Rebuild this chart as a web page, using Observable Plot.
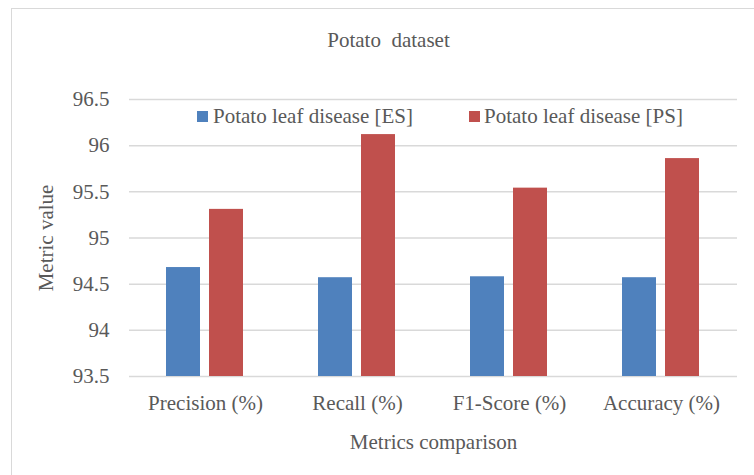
<!DOCTYPE html>
<html>
<head>
<meta charset="utf-8">
<script src="https://cdn.jsdelivr.net/npm/d3@7"></script>
<script src="https://cdn.jsdelivr.net/npm/@observablehq/plot@0.6"></script>
<style>
  html, body { margin: 0; padding: 0; background: #ffffff; }
  #wrap { position: relative; width: 754px; height: 475px; overflow: hidden; background: #ffffff;
          font-family: "Liberation Serif", "Times New Roman", serif; color: #595959; }
  #border { position: absolute; left: 11px; top: 8px; width: 760px; height: 500px;
            border-left: 1.5px solid #d9d9d9; border-top: 1.5px solid #d9d9d9; box-sizing: border-box; }
  #chart { position: absolute; left: 0; top: 0; }
  #chart svg, #chart svg text, #chart svg g { font-family: "Liberation Serif", "Times New Roman", serif !important; }
  .txt { position: absolute; font-size: 21px; line-height: 21px; white-space: pre; }
  .sw { position: absolute; width: 11px; height: 11px; }
</style>
</head>
<body>
<div id="wrap">
  <div id="border"></div>
  <div id="chart"></div>
  <div id="title" class="txt"></div>
  <div id="legend"></div>
</div>
<script>
const titleText = "Potato  dataset";
const categories = ["Precision (%)", "Recall (%)", "F1-Score (%)", "Accuracy (%)"];
const seriesNames = ["Potato leaf disease [ES]", "Potato leaf disease [PS]"];
const esValues = [94.68, 94.57, 94.58, 94.57];
const psValues = [95.31, 96.12, 95.54, 95.86];
const seriesColors = ["#4f81bd", "#c0504d"];
const yTicks = [93.5, 94, 94.5, 95, 95.5, 96, 96.5];
const yLabel = "Metric value";
const xLabel = "Metrics comparison";

const data = [];
categories.forEach((c, i) => {
  data.push({metric: c, series: seriesNames[0], value: esValues[i]});
  data.push({metric: c, series: seriesNames[1], value: psValues[i]});
});

const serif = "Liberation Serif";
const chart = Plot.plot({
  width: 754,
  height: 475,
  marginLeft: 128,
  marginRight: 16,
  marginTop: 99,
  marginBottom: 99,
  style: {fontFamily: serif, fontSize: "21px", color: "#595959", background: "transparent"},
  fx: {domain: categories, padding: 0},
  x: {domain: seriesNames, paddingInner: 0.207, paddingOuter: 0.86, axis: null},
  y: {domain: [yTicks[0], yTicks[yTicks.length - 1]]},
  color: {domain: seriesNames, range: seriesColors},
  marks: [
    Plot.gridY(yTicks, {stroke: "#d9d9d9", strokeOpacity: 1, strokeWidth: 1.5}),
    Plot.barY(data, {fx: "metric", x: "series", y: "value", fill: "series", clip: true}),
    Plot.axisY(yTicks, {tickSize: 0, tickPadding: 20, tickFormat: d => String(d), label: yLabel, labelAnchor: "center", labelOffset: 91, labelArrow: "none", fill: "#595959", fontFamily: serif, fontSize: 21}),
    Plot.axisFx({anchor: "bottom", tickSize: 0, tickPadding: 19, label: xLabel, labelAnchor: "center", labelOffset: 72, labelArrow: "none", fill: "#595959", fontFamily: serif, fontSize: 21})
  ]
});
document.getElementById("chart").appendChild(chart);

const t = document.getElementById("title");
t.textContent = titleText;
t.style.top = "30px";
t.style.left = "0px";
t.style.width = "777px";
t.style.textAlign = "center";

const lg = document.getElementById("legend");
const legendPos = [[197, 213], [469, 484]];
seriesNames.forEach((s, i) => {
  const sw = document.createElement("div");
  sw.className = "sw";
  sw.style.left = legendPos[i][0] + "px";
  sw.style.top = "111px";
  sw.style.background = seriesColors[i];
  lg.appendChild(sw);
  const tx = document.createElement("div");
  tx.className = "txt";
  tx.textContent = s;
  tx.style.left = legendPos[i][1] + "px";
  tx.style.top = "106px";
  lg.appendChild(tx);
});
</script>
</body>
</html>
